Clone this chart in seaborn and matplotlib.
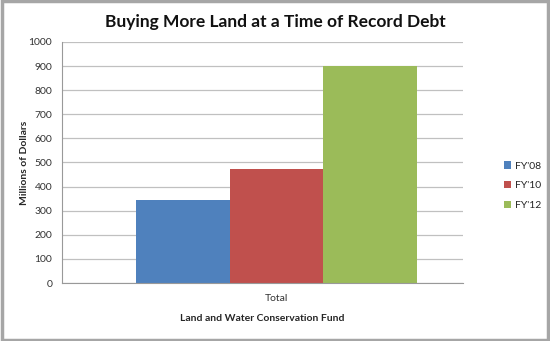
import matplotlib
matplotlib.use("Agg")
import matplotlib.pyplot as plt
import seaborn as sns
import pandas as pd
from matplotlib.patches import Rectangle, Patch

categories = ["Total"]
series = ["FY'08", "FY'10", "FY'12"]
values = [345, 473, 900]
colors = ["#4F81BD", "#C0504D", "#9BBB59"]
yticks = [0, 100, 200, 300, 400, 500, 600, 700, 800, 900, 1000]

df = pd.DataFrame({"cat": categories * len(series), "series": series, "value": values})

sns.set_theme(style="white")
plt.rcParams['font.family'] = ['Lato', 'DejaVu Sans']

fig = plt.figure(figsize=(5.5, 3.41), dpi=100)
ax = fig.add_axes([0.1127, 0.170, 0.7291, 0.707])

sns.barplot(data=df, x="cat", y="value", hue="series", palette=colors,
            width=0.7, saturation=1, ax=ax, legend=False, edgecolor="none")

ax.set_ylim(0, 1000)
ax.set_xlim(-0.535, 0.465)
ax.set_yticks(yticks)
ax.set_yticklabels([str(t) for t in yticks], fontsize=7.5, color="#333333")
ax.tick_params(axis="x", labelsize=7.5, colors="#333333", length=0, pad=8)
ax.tick_params(axis="y", length=4, width=0.8, color="#999999", direction="out", pad=3)
ax.yaxis.grid(True, color="#C0C0C0", linewidth=0.9)
ax.set_axisbelow(True)
for s in ["top", "right"]:
    ax.spines[s].set_visible(False)
ax.spines["left"].set_color("#999999")
ax.spines["bottom"].set_color("#999999")
ax.spines["left"].set_linewidth(0.8)
ax.spines["bottom"].set_linewidth(0.8)

ax.set_xlabel("Land and Water Conservation Fund", fontsize=7.5, fontweight="bold", labelpad=8)
ax.set_ylabel("Millions of Dollars", fontsize=7.5, fontweight="bold", labelpad=0)

fig.text(0.5, 0.935, "Buying More Land at a Time of Record Debt", ha="center", va="center",
         fontsize=12.5, fontweight="bold", color="#111111")

handles = [Patch(facecolor=c, edgecolor="none") for c in colors]
fig.legend(handles, series, loc="center left", bbox_to_anchor=(0.908, 0.455), frameon=False,
           fontsize=7.5, handlelength=0.7, handleheight=0.7, handletextpad=0.4, labelspacing=1.0,
           borderaxespad=0)

fig.patches.append(Rectangle((0.003, 0.004), 0.994, 0.992, transform=fig.transFigure,
                             fill=False, edgecolor="#A6A6A6", linewidth=2.5))

fig.savefig("out.png", dpi=100)
